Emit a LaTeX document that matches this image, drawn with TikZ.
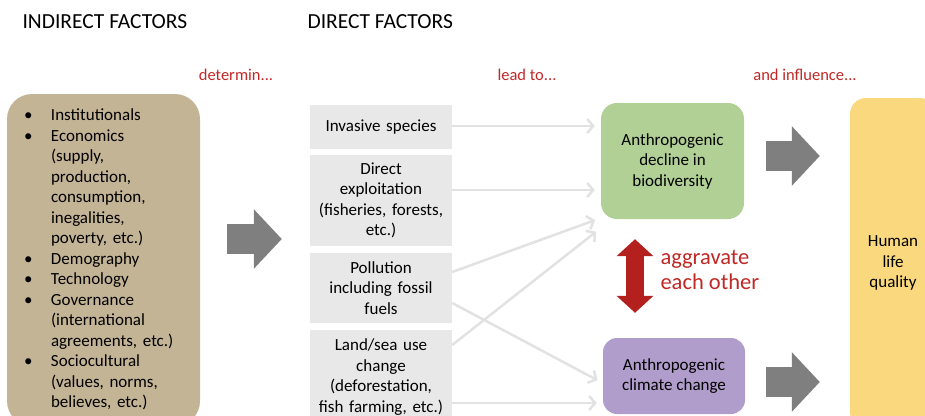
\documentclass[tikz,border=0pt]{standalone}
\usepackage{fontspec}
\setmainfont{Carlito}
\usetikzlibrary{arrows.meta}
\definecolor{tanbox}{RGB}{196,180,150}
\definecolor{factorgray}{RGB}{232,232,232}
\definecolor{linkgray}{RGB}{226,226,226}
\definecolor{blockgray}{RGB}{127,127,127}
\definecolor{biogreen}{RGB}{176,208,149}
\definecolor{climpurple}{RGB}{177,157,204}
\definecolor{lifeyellow}{RGB}{249,216,126}
\definecolor{notered}{RGB}{192,40,38}
\definecolor{doublered}{RGB}{180,32,30}
\tikzset{
    heading/.style={anchor=west, font=\fontsize{21.5}{24}\selectfont},
    note/.style={text=notered, font=\fontsize{16.5}{19}\selectfont},
    factor/.style={fill=factorgray, inner sep=0pt, text width=142pt, align=center, font=\fontsize{17}{20.5}\selectfont},
    effect/.style={rounded corners=16pt, inner sep=0pt, align=center, font=\fontsize{17}{20.5}\selectfont},
    link/.style={linkgray, line width=2.5pt, -{Straight Barb[length=6pt,width=14pt]}, shorten >=6pt},
    bigarrow/.style={blockgray, line width=30pt, -{Triangle[length=28pt,width=58pt]}},
}
\begin{document}
\begin{tikzpicture}[x=1pt, y=-1pt]
    \path[use as bounding box, clip] (0, 0) rectangle (925, 415);
    \node[heading] (indhead) at (19, 22) {INDIRECT FACTORS};
    \node[heading] (dirhead) at (304, 22) {DIRECT FACTORS};
    \node[note] (determ) at (236, 75) {determin...};
    \node[note] (leadto) at (527, 75) {lead to...};
    \node[note] (influ) at (805, 75) {and influence...};

    \node[fill=tanbox, rounded corners=25pt, minimum width=193pt, minimum height=332pt, inner xsep=17pt, text width=159pt, align=left, font=\fontsize{17}{20.5}\selectfont] (indirect) at (103.5, 260) {%
        \begin{tabular}{@{}p{27pt}@{}l@{}}
            \textbullet & Institutionals\\
            \textbullet & Economics\\
            & (supply,\\
            & production,\\
            & consumption,\\
            & inegalities,\\
            & poverty, etc.)\\
            \textbullet & Demography\\
            \textbullet & Technology\\
            \textbullet & Governance\\
            & (international\\
            & agreements, etc.)\\
            \textbullet & Sociocultural\\
            & (values, norms,\\
            & believes, etc.)
        \end{tabular}};

    \node[factor, minimum height=44pt] (invasive) at (381, 127) {Invasive species};
    \node[factor, minimum height=91pt] (exploit) at (381, 200.5) {Direct\\exploitation\\(fisheries, forests,\\etc.)};
    \node[factor, minimum height=70pt] (pollution) at (381, 288) {Pollution\\including fossil\\fuels};
    \node[factor, minimum height=94pt] (landuse) at (381, 377) {Land/sea use\\change\\(deforestation,\\fish farming, etc.)};

    \node[effect, fill=biogreen, minimum width=143pt, minimum height=116pt] (biodiv) at (672.5, 161) {Anthropogenic\\decline in\\biodiversity};
    \node[effect, fill=climpurple, rounded corners=14pt, minimum width=142pt, minimum height=76pt] (climate) at (674, 376) {Anthropogenic\\climate change};
    \node[effect, fill=lifeyellow, minimum width=86pt, minimum height=330pt] (quality) at (893, 263) {Human\\life\\quality};

    \draw[bigarrow, shorten <=27pt, shorten >=28pt] ([yshift=21pt]indirect.east) -- ([yshift=21pt]indirect.east -| exploit.west);
    \draw[bigarrow, shorten <=22pt, shorten >=30pt] ([yshift=5pt]biodiv.east) -- ([yshift=5pt]biodiv.east -| quality.west);
    \draw[bigarrow, shorten <=21pt, shorten >=30pt] ([yshift=-6pt]climate.east) -- ([yshift=-6pt]climate.east -| quality.west);

    \draw[link] ([yshift=1pt]invasive.east) -- ([yshift=35pt]biodiv.west);
    \draw[link] ([yshift=10.5pt]exploit.east) -- ([yshift=-29pt]biodiv.west);
    \draw[link] ([yshift=16pt]pollution.east) -- ([yshift=-57pt]biodiv.west);
    \draw[link] ([yshift=-15pt]pollution.east) -- ([yshift=-7pt]climate.west);
    \draw[link] ([yshift=32pt]landuse.east) -- ([yshift=-67pt]biodiv.west);
    \draw[link] ([yshift=-26pt]landuse.east) -- ([yshift=-27pt]climate.west);

    \draw[doublered, line width=18pt, {Triangle[length=17pt,width=36pt]}-{Triangle[length=17pt,width=36pt]}] ([xshift=-37.5pt, yshift=-20pt]biodiv.south) -- ([xshift=-39pt, yshift=25pt]climate.north);
    \node[anchor=north west, text=notered, align=left, font=\fontsize{22.5}{25}\selectfont] (aggrav) at (657, 247) {aggravate\\each other};
\end{tikzpicture}
\end{document}
